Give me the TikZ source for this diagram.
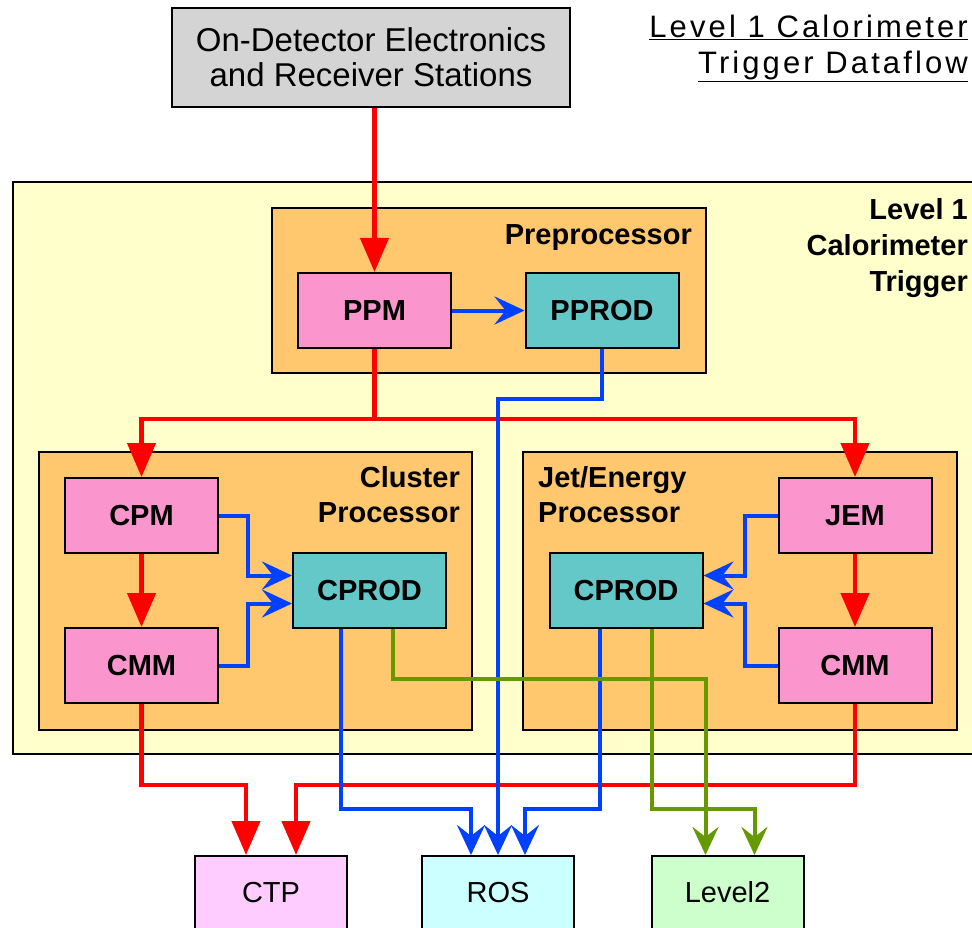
\documentclass[tikz,border=0pt]{standalone}
\usepackage{fontspec}
\setmainfont{Liberation Sans}
\usepackage{tikz}
\usetikzlibrary{arrows.meta}

\definecolor{bgyellow}{RGB}{255,255,204}
\definecolor{crateorange}{RGB}{255,200,110}
\definecolor{modpink}{RGB}{250,150,205}
\definecolor{rodteal}{RGB}{100,200,200}
\definecolor{detgray}{RGB}{212,212,212}
\definecolor{ctppink}{RGB}{255,204,255}
\definecolor{roscyan}{RGB}{204,255,255}
\definecolor{lvlgreen}{RGB}{204,255,204}
\definecolor{sigred}{RGB}{255,0,0}
\definecolor{sigblue}{RGB}{0,64,255}
\definecolor{siggreen}{RGB}{102,153,0}

\begin{document}
\begin{tikzpicture}[x=1pt, y=-1pt,
	cardbox/.style={draw=black, line width=2pt, minimum width=153pt, minimum height=75pt, inner sep=0pt, font=\fontsize{29}{35}\selectfont\bfseries},
	modbox/.style={cardbox, fill=modpink},
	rodbox/.style={cardbox, fill=rodteal},
	crate/.style={draw=black, line width=2pt, fill=crateorange, inner sep=0pt},
	cratetext/.style={inner sep=0pt, font=\fontsize{29}{35}\selectfont\bfseries},
	outbox/.style={draw=black, line width=2pt, minimum width=152pt, minimum height=80pt, text depth=8pt, anchor=north, inner sep=0pt, font=\fontsize{29}{35}\selectfont},
	realtime/.style={draw=sigred, line width=4.5pt, -{Triangle[length=34pt,width=28pt]}},
	readout/.style={draw=sigblue, line width=4pt, -{Stealth[length=30pt,width=28pt,inset=11pt]}},
	roidata/.style={draw=siggreen, line width=4pt, -{Stealth[length=28pt,width=26pt,inset=10pt]}}]

	\useasboundingbox (0,0) rectangle (972,928);

	%title and detector

	\node[inner sep=0pt, anchor=north east, align=right, font=\fontsize{31}{36}\selectfont\addfontfeature{LetterSpace=10}] (title) at (968,15) {\underline{Level 1 Calorimeter}\\\underline{Trigger Dataflow}};
	\node[draw=black, line width=2pt, fill=detgray, minimum width=398pt, minimum height=99pt, align=center, font=\fontsize{33}{35}\selectfont] (odet) at (371,57.5) {On-Detector Electronics\\and Receiver Stations};

	%level 1 calorimeter trigger

	\fill[bgyellow] (13,182) rectangle (972,754);
	\draw[line width=2pt] (972,182) -- (13,182) -- (13,754) -- (972,754);
	\node[cratetext, anchor=north east, align=right, font=\fontsize{29}{36}\selectfont\bfseries] (l1text) at (968,198) {Level 1\\Calorimeter\\Trigger};

	%preprocessor

	\node[crate, minimum width=434pt, minimum height=165pt] (pre) at (489,290.5) {};
	\node[cratetext, anchor=base east] (pretext) at (692,245) {Preprocessor};
	\node[modbox] (ppm) at (374.5,310.5) {PPM};
	\node[rodbox] (pprod) at (602,310.5) {PPROD};

	%cluster processor

	\node[crate, minimum width=433pt, minimum height=278pt] (clu) at (255.5,591) {};
	\node[cratetext, anchor=north east, align=right] (clutext) at (460,466) {Cluster\\Processor};
	\node[modbox] (cpm) at (141.5,515.5) {CPM};
	\node[modbox] (cmml) at (141.5,665.5) {CMM};
	\node[rodbox] (cprodl) at (369.5,590.5) {CPROD};

	%jet/energy processor

	\node[crate, minimum width=434pt, minimum height=278pt] (jep) at (740,591) {};
	\node[cratetext, anchor=north west, align=left] (jeptext) at (538,466) {Jet/Energy\\Processor};
	\node[modbox] (jem) at (855,515.5) {JEM};
	\node[modbox] (cmmr) at (855,665.5) {CMM};
	\node[rodbox] (cprodr) at (626,590.5) {CPROD};

	%destinations

	\node[outbox, fill=ctppink] (ctp) at (271,855) {CTP};
	\node[outbox, fill=roscyan] (ros) at (498,855) {ROS};
	\node[outbox, fill=lvlgreen] (lvl2) at (727.5,855) {Level2};

	%real-time path

	\coordinate (rsplit) at (374.5,419);
	\draw[realtime] (odet.south -| ppm.north) -- (ppm.north);
	\draw[realtime] (ppm.south) -- (rsplit) -| (cpm.north);
	\draw[realtime] (rsplit) -| (jem.north);
	\draw[realtime] (cpm) -- (cmml);
	\draw[realtime] (jem) -- (cmmr);
	\draw[realtime] (cmml.south) -- ++(0,81) -| ([xshift=-25pt]ctp.north);
	\draw[realtime] (cmmr.south) -- ++(0,81) -| ([xshift=25pt]ctp.north);

	%readout path

	\draw[readout] (ppm) -- (pprod);
	\draw[readout] (pprod.south) -- ++(0,50) -| (ros.north);
	\draw[readout] (cpm.east) -- ++(29,0) |- ([yshift=15pt]cprodl.west);
	\draw[readout] (cmml.east) -- ++(29,0) |- ([yshift=-13pt]cprodl.west);
	\draw[readout] (jem.west) -- ++(-33,0) |- ([yshift=15pt]cprodr.east);
	\draw[readout] (cmmr.west) -- ++(-33,0) |- ([yshift=-13pt]cprodr.east);
	\draw[readout] ([xshift=-29pt]cprodl.south) -- ++(0,180) -| ([xshift=-27pt]ros.north);
	\draw[readout] ([xshift=-26pt]cprodr.south) -- ++(0,180) -| ([xshift=27pt]ros.north);

	%level 2 path

	\draw[roidata] ([xshift=23.5pt]cprodl.south) -- ++(0,50) -| ([xshift=-22pt]lvl2.north);
	\draw[roidata] ([xshift=26pt]cprodr.south) -- ++(0,180) -| ([xshift=27pt]lvl2.north);

\end{tikzpicture}
\end{document}
